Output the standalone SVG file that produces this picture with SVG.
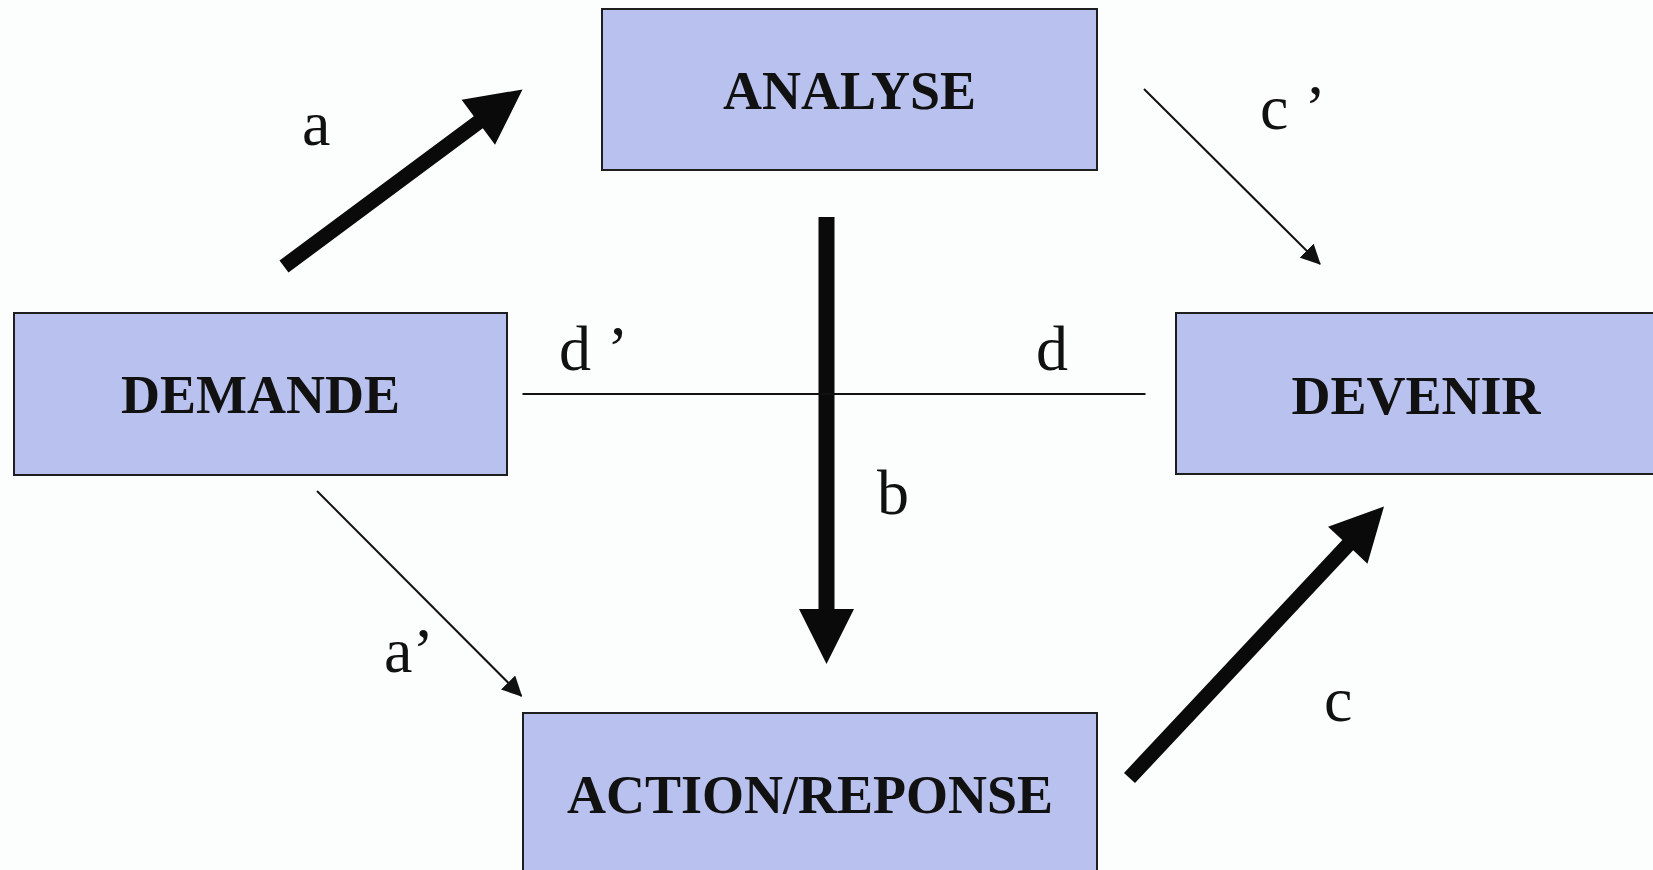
<svg xmlns="http://www.w3.org/2000/svg" width="1653" height="870" viewBox="0 0 1653 870">
  <style>
    .box { fill: #b9c1ee; stroke: #1e1e1e; stroke-width: 2; }
    .node-text { font-family: "Liberation Serif", "Times New Roman", serif; font-weight: bold; font-size: 54px; fill: #111; text-anchor: middle; }
    .label { font-family: "Liberation Serif", "Times New Roman", serif; font-size: 64px; fill: #111; }
    .thin { stroke: #111; stroke-width: 2; fill: none; }
    .thick { fill: #0a0a0a; }
  </style>
  <defs>
    <marker id="head" viewBox="0 0 20 20" refX="19" refY="10" markerWidth="20" markerHeight="20" markerUnits="userSpaceOnUse" orient="auto">
      <path d="M0,0 L20,10 L0,20 Z" fill="#111"/>
    </marker>
  </defs>
  <rect x="0" y="0" width="1653" height="870" fill="#fcfdfd"/>

  <g id="analyse">
    <rect class="box" x="602" y="9" width="495" height="161"/>
    <text class="node-text" x="849.5" y="109">ANALYSE</text>
  </g>
  <g id="demande">
    <rect class="box" x="14" y="313" width="493" height="162"/>
    <text class="node-text" x="260.5" y="413">DEMANDE</text>
  </g>
  <g id="devenir">
    <rect class="box" x="1176" y="313" width="490" height="161"/>
    <text class="node-text" x="1416" y="414">DEVENIR</text>
  </g>
  <g id="action-reponse">
    <rect class="box" x="523" y="713" width="574" height="170"/>
    <text class="node-text" x="810" y="813">ACTION/REPONSE</text>
  </g>

  <g id="connectors">
    <polygon class="thick" points="279.5,260.5 473.8,116.3 461.6,99.8 522.5,89.5 495,144.8 482.8,128.3 288.5,272.5"/>
    <polygon class="thick" points="1124,772.9 1342.3,540.1 1328.05,526.7 1384,506.5 1367.45,563.7 1353.2,550.3 1135,783.1"/>
    <polygon class="thick" points="818.5,217 834.5,217 834.5,609 854,609 826.5,664 799,609 818.5,609"/>
    <line class="thin" x1="1144" y1="89" x2="1320" y2="264" marker-end="url(#head)"/>
    <line class="thin" x1="317" y1="491" x2="521.5" y2="696" marker-end="url(#head)"/>
    <line class="thin" x1="522.5" y1="394" x2="1145.5" y2="394"/>
  </g>

  <g id="labels">
    <text class="label" x="302" y="145">a</text>
    <text class="label" x="1260" y="129">c ’</text>
    <text class="label" x="559" y="370">d ’</text>
    <text class="label" x="1036" y="370">d</text>
    <text class="label" x="877" y="514">b</text>
    <text class="label" x="384" y="672">a’</text>
    <text class="label" x="1324" y="721">c</text>
  </g>
</svg>
